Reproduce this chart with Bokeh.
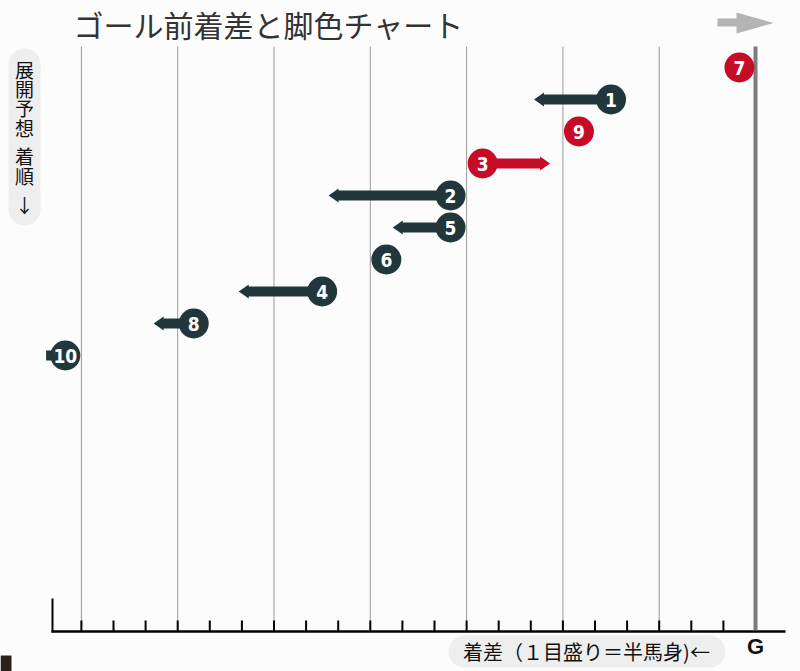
from bokeh.plotting import figure
from bokeh.models import Range1d
from bokeh.core.properties import value
from bokeh.embed import file_html
from bokeh.resources import INLINE

# ---------------- data ----------------
horse_numbers = ["7", "1", "9", "3", "2", "5", "6", "4", "8", "10"]
finish_order = [1, 2, 3, 4, 5, 6, 7, 8, 9, 10]
# position of each horse (half-lengths from the goal line, G = 0)
gap_half_lengths = [-0.5, -4.5, -5.5, -8.5, -9.5, -9.5, -11.5, -13.5, -17.5, -21.5]
# end of the "leg colour" tail (None = no tail)
leg_end = [None, -6.9, None, -6.4, -13.3, -11.3, None, -16.1, -18.75, -22.1]
arrow_head = [False, True, False, True, True, True, False, True, True, False]
highlight = [True, False, True, True, False, False, False, False, False, False]
scale_ticks = list(range(-21, 1))
grid_ticks = [-21, -18, -15, -12, -9, -6, -3]
goal_label = "G"
title_text = "ゴール前着差と脚色チャート"
y_label_chars = ["展", "開", "予", "想", "着", "順", "↓"]
x_label_text = "着差（１目盛り＝半馬身)←"

# ---------------- layout / style ----------------
W, H = 800, 671
AXIS_PX = 631
G_PX, UX = 755, 32.1
ROW1_PX, UY = 67, 32.0
DARK = "#22373b"
RED = "#c60c27"
NUM_FONT = value("DejaVu Sans Condensed, Roboto Condensed, Roboto, sans-serif")


def X(px):
    return (px - G_PX) / UX


def Y(py):
    return 1 + (py - ROW1_PX) / UY


p = figure(width=W, height=H, output_backend="svg", toolbar_location=None,
           x_axis_type=None, y_axis_type=None,
           x_range=Range1d(X(0), X(W)), y_range=Range1d(Y(H), Y(0)),
           min_border=0)
p.outline_line_color = None
p.grid.visible = False
p.background_fill_color = "#fcfcfc"
p.border_fill_color = "#ffffff"

# vertical grid lines
n = len(grid_ticks)
p.segment(x0=grid_ticks, y0=[Y(46)] * n, x1=grid_ticks, y1=[Y(AXIS_PX)] * n,
          line_color="#9a9a9a", line_width=1)

# scale: baseline, half-length ticks, left stub
m = len(scale_ticks)
p.segment(x0=scale_ticks, y0=[Y(620)] * m, x1=scale_ticks, y1=[Y(AXIS_PX)] * m,
          line_color="black", line_width=2)
p.segment(x0=[X(51)], y0=[Y(AXIS_PX)], x1=[X(785)], y1=[Y(AXIS_PX)],
          line_color="black", line_width=2.5)
p.segment(x0=[X(52)], y0=[Y(598)], x1=[X(52)], y1=[Y(AXIS_PX + 1)],
          line_color="black", line_width=2)

# goal line
p.segment(x0=[0], y0=[Y(46)], x1=[0], y1=[Y(AXIS_PX - 1)], line_color="#7b7b7b", line_width=4)
p.text(x=[0], y=[Y(646)], text=[goal_label], text_font=value("Liberation Sans"),
       text_font_style="bold", text_font_size="22px", text_color="#111111",
       text_align="center", text_baseline="middle")

# tails / arrows
colors = [RED if h else DARK for h in highlight]
bh, hh, hl = 5 / UY, 7 / UY, 10 / UX
xs_list, ys_list, tail_colors = [], [], []
for c, t, r, head, col in zip(gap_half_lengths, leg_end, finish_order, arrow_head, colors):
    if t is None:
        continue
    d = 1 if t > c else -1
    if head:
        base = t - d * hl
        xs = [c, base, base, t, base, base, c]
        ys = [r - bh, r - bh, r - hh, r, r + hh, r + bh, r + bh]
    else:
        xs = [c, t, t, c]
        ys = [r - bh, r - bh, r + bh, r + bh]
    xs_list.append(xs)
    ys_list.append(ys)
    tail_colors.append(col)
p.patches(xs_list, ys_list, fill_color=tail_colors, line_color=None)

# horse circles + numbers
p.scatter(x=gap_half_lengths, y=finish_order, size=30, marker="circle",
          fill_color=colors, line_color=None)
p.text(x=gap_half_lengths, y=[r + 0.02 for r in finish_order], text=horse_numbers,
       text_color="white", text_align="center", text_baseline="middle",
       text_font=NUM_FONT, text_font_style="bold", text_font_size="19px")

# title
p.text(x=[X(73)], y=[Y(23)], text=[title_text], text_font=value("Noto Sans CJK JP"),
       text_font_size="30px", text_color="#333333", text_baseline="middle")

# grey direction arrow at top right
p.patch(x=[X(717), X(736), X(736), X(773), X(736), X(736), X(717)],
        y=[Y(18), Y(18), Y(12), Y(22.5), Y(33), Y(26), Y(26)],
        fill_color="#b4b4b4", line_color=None)

# left vertical pill label
p.rect(x=[X(24)], y=[Y(136.5)], width=32, height=145, width_units="screen",
       height_units="screen", fill_color="#eeeeee", line_color=None)
p.scatter(x=[X(24)] * 2, y=[Y(64), Y(209)], size=32, marker="circle",
          fill_color="#eeeeee", line_color=None)
char_py = [68.5, 88, 107, 127, 155, 175, 204]
p.text(x=[X(24)] * len(y_label_chars), y=[Y(v) for v in char_py], text=y_label_chars,
       text_font=value("Noto Sans CJK JP"), text_font_size="19px", text_color="#111111",
       text_align="center", text_baseline="middle")

# bottom pill label
p.rect(x=[X(586.5)], y=[Y(651)], width=245, height=32, width_units="screen",
       height_units="screen", fill_color="#eeeeee", line_color=None)
p.scatter(x=[X(464), X(709)], y=[Y(651)] * 2, size=32, marker="circle",
          fill_color="#eeeeee", line_color=None)
p.text(x=[X(586)], y=[Y(651)], text=[x_label_text], text_font=value("Noto Sans CJK JP"),
       text_font_size="20px", text_color="#111111", text_align="center",
       text_baseline="middle")

# small dark corner block (as in the source image)
p.quad(left=[X(0)], right=[X(11)], top=[Y(655)], bottom=[Y(H)], fill_color="#2b211c",
       line_color=None)

open("out.html", "w").write(file_html(p, INLINE))
